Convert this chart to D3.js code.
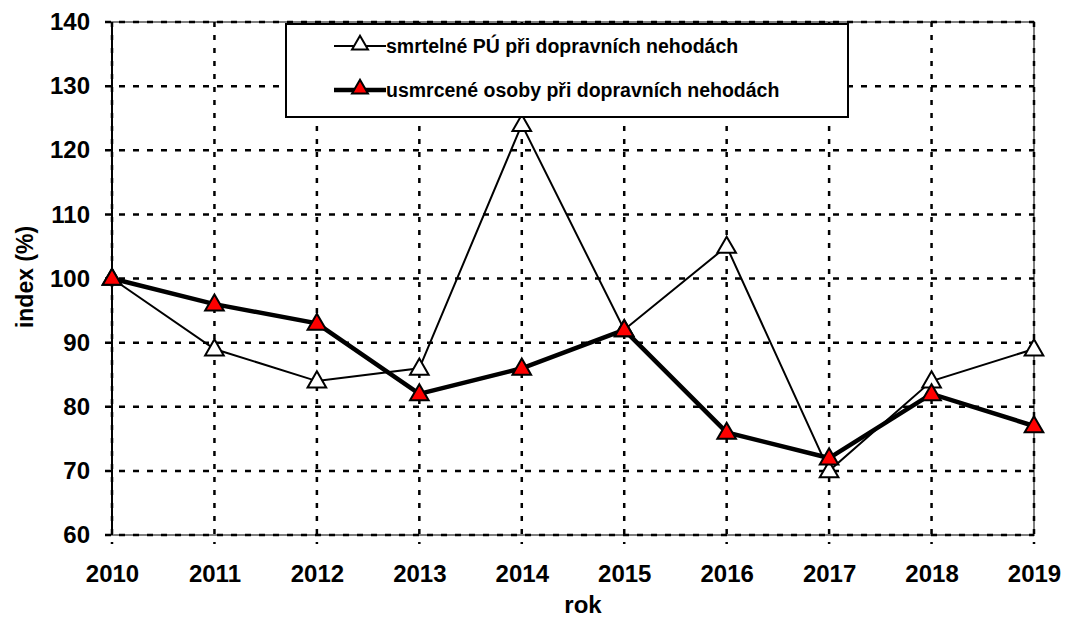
<!DOCTYPE html>
<html>
<head>
<meta charset="utf-8">
<script src="https://cdn.jsdelivr.net/npm/d3@7"></script>
<style>
  body { margin: 0; background: #fff; }
  text { font-family: "Liberation Sans", Arial, sans-serif; font-weight: bold; fill: #000; }
</style>
</head>
<body>
<svg width="1065" height="617"></svg>
<script>
// chart data
var years = [2010, 2011, 2012, 2013, 2014, 2015, 2016, 2017, 2018, 2019];
var fatalAccidents = [100, 89, 84, 86, 124, 92, 105, 70, 84, 89];
var killedPersons = [100, 96, 93, 82, 86, 92, 76, 72, 82, 77];
var yTicks = [60, 70, 80, 90, 100, 110, 120, 130, 140];
var seriesNames = ["smrtelné PÚ při dopravních nehodách", "usmrcené osoby při dopravních nehodách"];

var margin = {top: 22, right: 31, bottom: 82, left: 112},
    width = 1065 - margin.left - margin.right,
    height = 617 - margin.top - margin.bottom;

var svg = d3.select("svg")
  .append("g")
    .attr("transform", "translate(" + margin.left + "," + margin.top + ")");

var x = d3.scaleLinear().domain([2010, 2019]).range([0, width]);
var y = d3.scaleLinear().domain([60, 140]).range([height, 0]);

// frame (grey on top, right, bottom)
svg.append("rect")
    .attr("x", 0).attr("y", 0)
    .attr("width", width).attr("height", height)
    .attr("fill", "none")
    .attr("stroke", "#808080")
    .attr("stroke-width", 2);

// horizontal dashed grid, extending left as ticks
svg.selectAll(".hgrid")
    .data(yTicks)
  .enter().append("line")
    .attr("x1", -7).attr("x2", width)
    .attr("y1", function(d) { return y(d); })
    .attr("y2", function(d) { return y(d); })
    .attr("stroke", "#000")
    .attr("stroke-width", 2.5)
    .attr("stroke-dasharray", "6,8");

// vertical dashed grid, extending below as ticks
svg.selectAll(".vgrid")
    .data(years)
  .enter().append("line")
    .attr("x1", function(d) { return x(d); })
    .attr("x2", function(d) { return x(d); })
    .attr("y1", 0).attr("y2", height + 9)
    .attr("stroke", "#000")
    .attr("stroke-width", 2.5)
    .attr("stroke-dasharray", "5,8");

// left axis line
svg.append("line")
    .attr("x1", 0).attr("x2", 0)
    .attr("y1", 0).attr("y2", height)
    .attr("stroke", "#000")
    .attr("stroke-width", 2);

// y labels
var yAxis = svg.append("g")
    .call(d3.axisLeft(y).tickValues(yTicks).tickSize(0).tickPadding(22));
yAxis.select(".domain").remove();
yAxis.selectAll("text")
    .style("font-size", "24px")
    .style("font-family", "Liberation Sans, Arial, sans-serif")
    .style("font-weight", "bold");

// x labels
var xAxis = svg.append("g")
    .attr("transform", "translate(0," + height + ")")
    .call(d3.axisBottom(x).tickValues(years).tickFormat(d3.format("d")).tickSize(0).tickPadding(30));
xAxis.select(".domain").remove();
xAxis.selectAll("text")
    .style("font-size", "24px")
    .style("font-family", "Liberation Sans, Arial, sans-serif")
    .style("font-weight", "bold");

// axis titles
svg.append("text")
    .attr("x", width / 2 + 10)
    .attr("y", height + 78)
    .attr("text-anchor", "middle")
    .style("font-size", "24px")
    .text("rok");

svg.append("text")
    .attr("transform", "translate(-79," + (277 - margin.top) + ") rotate(-90)")
    .attr("text-anchor", "middle")
    .style("font-size", "23px")
    .text("index (%)");

// lines
var line = d3.line()
    .x(function(d, i) { return x(years[i]); })
    .y(function(d) { return y(d); });

var tri = d3.symbol().type(d3.symbolTriangle).size(150);

svg.append("path")
    .datum(fatalAccidents)
    .attr("fill", "none")
    .attr("stroke", "#000")
    .attr("stroke-width", 2)
    .attr("d", line);

svg.selectAll(".m1")
    .data(fatalAccidents)
  .enter().append("path")
    .attr("d", tri)
    .attr("transform", function(d, i) { return "translate(" + x(years[i]) + "," + (y(d) + 1) + ")"; })
    .attr("fill", "#fff")
    .attr("stroke", "#000")
    .attr("stroke-width", 2);

svg.append("path")
    .datum(killedPersons)
    .attr("fill", "none")
    .attr("stroke", "#000")
    .attr("stroke-width", 4.5)
    .attr("d", line);

svg.selectAll(".m2")
    .data(killedPersons)
  .enter().append("path")
    .attr("d", tri)
    .attr("transform", function(d, i) { return "translate(" + x(years[i]) + "," + (y(d) + 1) + ")"; })
    .attr("fill", "#ff0000")
    .attr("stroke", "#000")
    .attr("stroke-width", 2);

// legend
var legend = svg.append("g")
    .attr("transform", "translate(" + (286 - margin.left) + "," + (24 - margin.top) + ")");

legend.append("rect")
    .attr("x", 0).attr("y", 0)
    .attr("width", 562).attr("height", 93)
    .attr("fill", "#fff")
    .attr("stroke", "#000")
    .attr("stroke-width", 2);

var legendRows = [
  {name: seriesNames[0], width: 2, fill: "#fff", y: 22},
  {name: seriesNames[1], width: 4.5, fill: "#ff0000", y: 66}
];

legendRows.forEach(function(r) {
  legend.append("line")
      .attr("x1", 48).attr("x2", 100)
      .attr("y1", r.y).attr("y2", r.y)
      .attr("stroke", "#000")
      .attr("stroke-width", r.width);
  legend.append("path")
      .attr("d", d3.symbol().type(d3.symbolTriangle).size(110))
      .attr("transform", "translate(74," + (r.y - 1) + ")")
      .attr("fill", r.fill)
      .attr("stroke", "#000")
      .attr("stroke-width", 2);
  legend.append("text")
      .attr("x", 100)
      .attr("y", r.y + 7)
      .style("font-size", "19.5px")
      .text(r.name);
});
</script>
</body>
</html>
